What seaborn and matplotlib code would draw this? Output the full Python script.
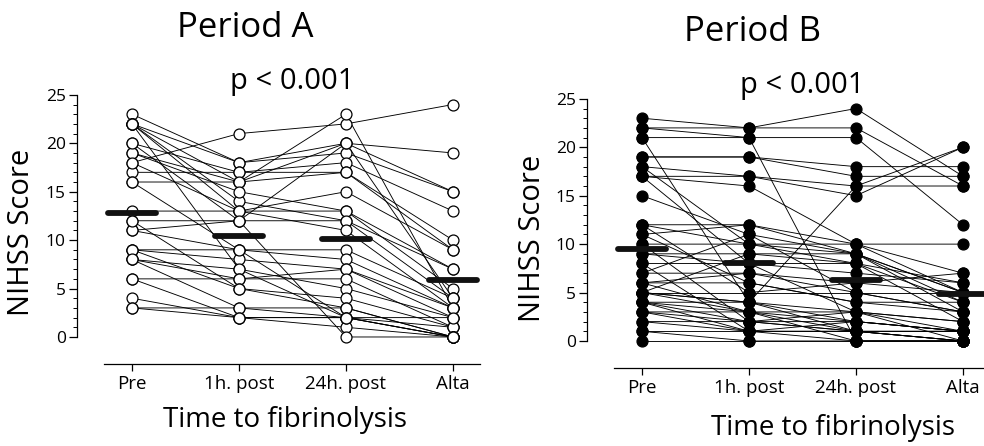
import numpy as np
import pandas as pd
import matplotlib
matplotlib.use('Agg')
import matplotlib.pyplot as plt
import seaborn as sns

sns.set_style('white')
plt.rcParams['font.family'] = ['Open Sans', 'DejaVu Sans']
plt.rcParams['text.color'] = 'black'
plt.rcParams['xtick.color'] = 'black'
plt.rcParams['ytick.color'] = 'black'

# categories
times = ['Pre', '1h. post', '24h. post', 'Alta']

# Period A : NIHSS score per patient (Pre, 1h, 24h, Alta)
period_a = [
    [18, 21, 22, 24], [23, 18, 20, 19], [22, 18, 19, 15], [22, 16, 20, 15],
    [20, 17, 18, 13], [19, 16, 17, 10], [22, 13, 15, 9], [17, 17, 17, 9],
    [16, 16, 23, 3], [22, 14, 12, 7], [19, 15, 13, 5], [13, 13, 13, 7],
    [12, 12, 12, 4], [22, 7, 2, 0], [11, 12, 20, 4], [18, 13, 11, 3],
    [11, 9, 9, 4], [9, 9, 8, 3], [9, 8, 7, 2], [8, 7, 5, 2],
    [8, 6, 7, 3], [6, 6, 6, 1], [12, 5, 4, 1], [4, 2, 2, 1],
    [3, 3, 3, 0], [9, 5, 3, 0], [8, 3, 2, 2], [3, 2, 1, 0],
    [20, 12, 0, 0], [16, 9, 2, 0], [6, 2, 2, 0],
]

# Period B
period_b = [
    [23, 22, 24, 17], [22, 22, 22, 16], [22, 21, 21, 12], [21, 21, 0, 0],
    [21, 4, 16, 20], [19, 19, 18, 18], [19, 19, 17, 17], [18, 17, 16, 16],
    [17, 17, 15, 20], [17, 16, 10, 10], [18, 10, 9, 5], [15, 11, 9, 4],
    [17, 8, 3, 1], [12, 12, 9, 3], [11, 12, 10, 7], [12, 10, 8, 6],
    [10, 10, 10, 5], [9, 9, 9, 5], [9, 8, 8, 4], [8, 8, 7, 6],
    [7, 11, 5, 3], [7, 7, 6, 5], [6, 7, 5, 3], [6, 6, 4, 3],
    [5, 9, 8, 2], [5, 5, 5, 5], [5, 4, 3, 2], [5, 3, 2, 1],
    [5, 4, 1, 1], [4, 4, 2, 1], [4, 3, 1, 0], [4, 2, 1, 0],
    [4, 1, 0, 0], [3, 3, 3, 2], [3, 2, 2, 1], [3, 1, 1, 1],
    [2, 2, 1, 0], [2, 1, 1, 0], [1, 1, 1, 1], [1, 0, 0, 0],
    [0, 0, 0, 0], [11, 6, 4, 4], [12, 5, 6, 7], [10, 2, 3, 0],
    [6, 3, 0, 0], [8, 1, 2, 1],
]

# mean values (black bars)
mean_a = [12.8, 10.4, 10.1, 5.9]
mean_b = [9.5, 8.1, 6.3, 4.8]

p_text = 'p < 0.001'


def to_long(rows):
    recs = []
    for pid, row in enumerate(rows):
        for t, v in enumerate(row):
            recs.append({'pid': pid, 't': t, 'score': v})
    return pd.DataFrame(recs)


W, H = 984, 446
fig = plt.figure(figsize=(W / 100, H / 100), dpi=100)


def make_axes(left_px, right_px, top_px, bottom_px):
    return fig.add_axes([left_px / W, 1 - bottom_px / H,
                         (right_px - left_px) / W, (bottom_px - top_px) / H])


ax_a = make_axes(77, 482, 90, 364)
ax_b = make_axes(587, 984, 94, 368)

panels = [
    (ax_a, period_a, mean_a, 'white', 3.25),
    (ax_b, period_b, mean_b, 'black', 3.45),
]

for ax, rows, means, face, xr in panels:
    df = to_long(rows)
    sns.lineplot(data=df, x='t', y='score', units='pid', estimator=None,
                 color='black', lw=0.65, ax=ax, legend=False, zorder=2)
    sns.scatterplot(data=df, x='t', y='score', s=62, color=face,
                    edgecolor='black', linewidth=0.9, ax=ax, zorder=3,
                    legend=False)
    for i, m in enumerate(means):
        ax.plot([i - 0.22, i + 0.22], [m, m], color='#111111', lw=4.2,
                solid_capstyle='round', zorder=4)

    # x: 107 px per category, y: 9.68 px per point
    ax.set_xlim(-0.514, -0.514 + ax.get_position().width * W / 107)
    ax.set_ylim(-2.79, 25.5)
    ax.set_xticks(range(4))
    ax.set_xticklabels(times, fontsize=13.5)
    ax.set_yticks(range(0, 26, 5))
    ax.set_yticks(range(0, 26), minor=True)
    ax.tick_params(axis='y', which='major', length=6, width=0.9,
                   labelsize=12.5, pad=2, direction='out', left=True)
    ax.tick_params(axis='y', which='minor', length=3, width=0.7,
                   direction='out', left=True)
    ax.tick_params(axis='x', length=5, width=0.9, pad=3, direction='out',
                   bottom=True)
    ax.set_xlabel('')
    ax.set_ylabel('')
    sns.despine(ax=ax)
    ax.spines['left'].set_bounds(0, 25)
    ax.spines['bottom'].set_bounds(-0.26, xr)
    for s in ['left', 'bottom']:
        ax.spines[s].set_linewidth(0.9)
        ax.spines[s].set_color('black')
    ax.patch.set_alpha(0)
    for c in ax.collections:
        c.set_clip_on(False)

# texts
fig.text(245 / W, 1 - 28 / H, 'Period A', fontsize=25, ha='center', va='center')
fig.text(753 / W, 1 - 32 / H, 'Period B', fontsize=25, ha='center', va='center')
fig.text(292 / W, 1 - 82 / H, p_text, fontsize=21, ha='center', va='center')
fig.text(802 / W, 1 - 86 / H, p_text, fontsize=21, ha='center', va='center')
fig.text(285 / W, 1 - 420 / H, 'Time to fibrinolysis', fontsize=20,
         ha='center', va='center')
fig.text(833 / W, 1 - 428 / H, 'Time to fibrinolysis', fontsize=20,
         ha='center', va='center')
fig.text(22 / W, 1 - 232 / H, 'NIHSS Score', fontsize=21, rotation=90,
         ha='center', va='center')
fig.text(533 / W, 1 - 238 / H, 'NIHSS Score', fontsize=21, rotation=90,
         ha='center', va='center')

fig.savefig('out.png', dpi=100)
